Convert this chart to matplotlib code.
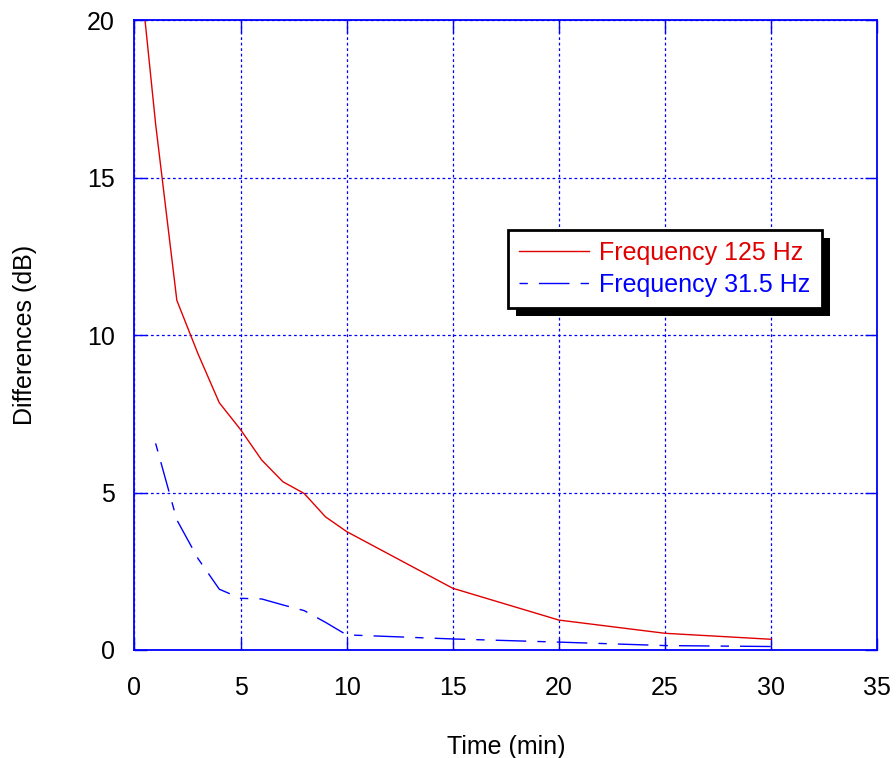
import matplotlib
matplotlib.use("Agg")
import matplotlib.pyplot as plt
from matplotlib.patches import Shadow

plt.rcParams["font.family"] = ["Liberation Sans", "DejaVu Sans"]

# measured level differences against elapsed time
time_125 = [0.5, 1, 2, 3, 4, 5, 6, 7, 8, 9, 10, 15, 20, 25, 30]
diff_125 = [20.0, 16.7, 11.1, 9.4, 7.85, 7.0, 6.03, 5.34, 4.97, 4.23, 3.76, 1.96, 0.95, 0.53, 0.34]

time_31 = [1, 2, 3, 4, 5, 6, 7, 8, 9, 10, 15, 20, 25, 30]
diff_31 = [6.56, 4.13, 2.9, 1.93, 1.64, 1.62, 1.43, 1.25, 0.88, 0.48, 0.35, 0.25, 0.14, 0.11]

x_ticks = [0, 5, 10, 15, 20, 25, 30, 35]
y_ticks = [0, 5, 10, 15, 20]

BLUE = "#0000ff"
RED = "#e00000"

fig = plt.figure(figsize=(8.96, 7.58), dpi=100)
ax = fig.add_axes([0.150, 0.1425, 0.829, 0.831])

ax.plot(time_125, diff_125, color=RED, lw=1.0, label="Frequency 125 Hz")
ax.plot(time_31, diff_31, color=BLUE, lw=1.0,
        linestyle=(30, (22, 8, 6, 8)), label="Frequency 31.5 Hz")

ax.set_xlim(0, 35)
ax.set_ylim(0, 20)
ax.set_xticks(x_ticks)
ax.set_yticks(y_ticks)
ax.grid(True, color=BLUE, lw=0.9, linestyle=(0, (2.2, 2.2)))

for sp in ax.spines.values():
    sp.set_color(BLUE)
    sp.set_linewidth(1.3)
ax.tick_params(direction="in", length=9, width=1.0, color=BLUE,
               top=True, right=True, labelsize=18, labelcolor="black")
ax.tick_params(axis="x", pad=19)
ax.tick_params(axis="y", pad=14)

ax.set_xlabel("Time (min)", fontsize=18, labelpad=25)
ax.set_ylabel("Differences (dB)", fontsize=18, labelpad=36)

leg = ax.legend(loc="upper left", bbox_to_anchor=(0.503, 0.667), fontsize=18,
                frameon=True, fancybox=False, shadow=False, handlelength=2.8,
                borderpad=0.45, labelspacing=0.3, handletextpad=0.4,
                borderaxespad=0)
frame = leg.get_frame()
frame.set_edgecolor("black")
frame.set_linewidth(2.0)
frame.set_facecolor("white")
frame.set_alpha(1)
leg.get_texts()[0].set_color(RED)
leg.get_texts()[1].set_color(BLUE)

# offset drop shadow behind the legend box
fig.canvas.draw()
shadow = Shadow(frame, 6, -6, facecolor="black", edgecolor="none", alpha=1)
shadow.set_zorder(leg.get_zorder() - 0.1)
ax.add_artist(shadow)

fig.savefig("out.png", dpi=100)
